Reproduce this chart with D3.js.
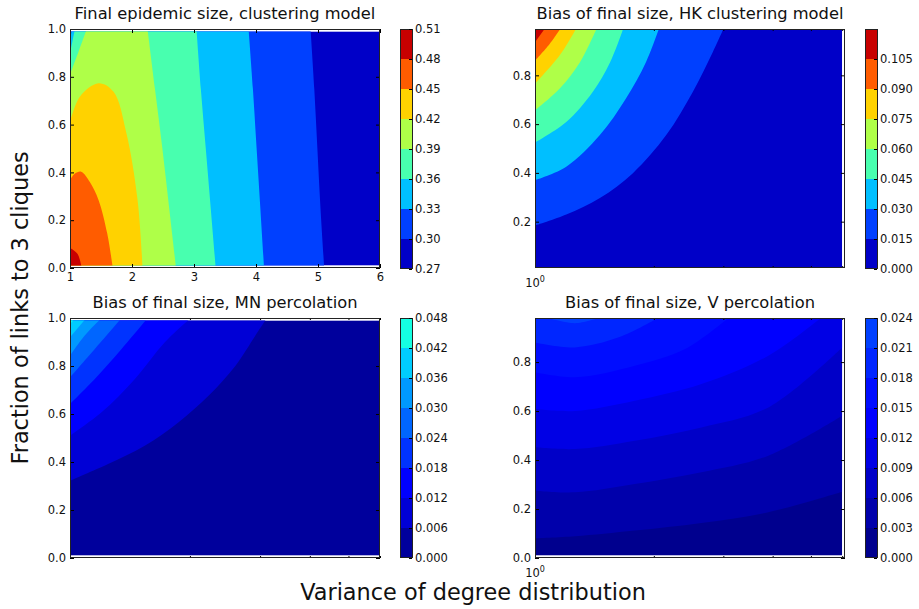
<!DOCTYPE html>
<html>
<head>
<meta charset="utf-8">
<script src="https://cdn.jsdelivr.net/npm/d3@7"></script>
<style>
body { margin: 0; background: #fff; }
text { font-family: "DejaVu Sans", sans-serif; }
</style>
</head>
<body>
<div id="chart"></div>
<script>
// contour levels, shown on the colorbars
var sizeLevels = [0.27, 0.30, 0.33, 0.36, 0.39, 0.42, 0.45, 0.48, 0.51];
var hkLevels = [0, 0.015, 0.03, 0.045, 0.06, 0.075, 0.09, 0.105, 0.12];
var mnLevels = [0, 0.006, 0.012, 0.018, 0.024, 0.03, 0.036, 0.042, 0.048];
var vLevels = [0, 0.003, 0.006, 0.009, 0.012, 0.015, 0.018, 0.021, 0.024];

// region above each level (one entry per level, from the 2nd one up)
// each region is a list of pieces [variance, fraction]; pieces with several points are curved
var sizeRegions = [
  [[[5.10, 0], [5.04, 0.25], [4.99, 0.5], [4.94, 0.75], [4.88, 1]], [[1, 1]], [[1, 0]]],
  [[[4.13, 0], [4.07, 0.25], [4.01, 0.5], [3.95, 0.75], [3.88, 1]], [[1.03, 1]], [[1, 0.95]], [[1, 0]]],
  [[[3.35, 0], [3.27, 0.25], [3.19, 0.5], [3.11, 0.75], [3.04, 1]], [[1.08, 1]], [[1, 0.9]], [[1, 0]]],
  [[[2.71, 0], [2.60, 0.25], [2.49, 0.5], [2.37, 0.75], [2.25, 1]], [[1.27, 1], [1.13, 0.9], [1, 0.81]], [[1, 0]]],
  [[[1, 0.611], [1.16, 0.717], [1.46, 0.773], [1.70, 0.738], [1.91, 0.564], [2.09, 0.285], [2.17, 0]], [[1, 0]]],
  [[[1, 0.368], [1.08, 0.395], [1.18, 0.403], [1.32, 0.36], [1.46, 0.285], [1.60, 0.145], [1.69, 0]], [[1, 0]]],
  [[[1, 0.084], [1.12, 0.06], [1.19, 0]], [[1, 0]]]
];

var hkRegions = [
  [[[1, 0.184], [1.20, 0.229], [1.46, 0.297], [1.77, 0.399], [2.15, 0.555], [2.51, 0.732], [2.82, 0.895], [3.02, 1]], [[1, 1]]],
  [[[1, 0.370], [1.20, 0.425], [1.46, 0.555], [1.70, 0.705], [1.91, 0.854], [2.07, 1]], [[1, 1]]],
  [[[1, 0.525], [1.20, 0.609], [1.40, 0.732], [1.55, 0.854], [1.68, 1]], [[1, 1]]],
  [[[1, 0.657], [1.155, 0.746], [1.30, 0.854], [1.44, 1]], [[1, 1]]],
  [[[1, 0.766], [1.155, 0.882], [1.28, 1]], [[1, 1]]],
  [[[1, 0.861], [1.089, 0.929], [1.17, 1]], [[1, 1]]],
  [[[1, 0.936], [1.068, 1]], [[1, 1]]]
];

var mnRegions = [
  [[[1, 0.3225], [1.246, 0.392], [1.54, 0.468], [1.87, 0.565], [2.23, 0.677], [2.60, 0.80], [2.92, 0.927], [3.12, 1]], [[1, 1]]],
  [[[1, 0.51], [1.20, 0.607], [1.455, 0.746], [1.73, 0.899], [2.01, 1]], [[1, 1]]],
  [[[1, 0.642], [1.154, 0.746], [1.347, 0.871], [1.566, 1]], [[1, 1]]],
  [[[1, 0.753], [1.154, 0.871], [1.347, 1]], [[1, 1]]],
  [[[1, 0.843], [1.089, 0.927], [1.20, 1]], [[1, 1]]],
  [[[1, 0.92], [1.099, 1]], [[1, 1]]],
  [[[1, 0.975], [1.031, 1]], [[1, 1]]]
];

var vRegions = [
  [[[1, 0.080], [1.262, 0.0886], [1.79, 0.112], [2.64, 0.143], [3.90, 0.187], [6, 0.271]], [[6, 1]], [[1, 1]]],
  [[[1, 0.275], [1.262, 0.268], [1.79, 0.302], [2.64, 0.350], [3.90, 0.418], [6, 0.581]], [[6, 1]], [[1, 1]]],
  [[[1, 0.452], [1.262, 0.445], [1.79, 0.479], [2.64, 0.533], [3.90, 0.615], [6, 0.86]], [[6, 1]], [[1, 1]]],
  [[[1, 0.608], [1.262, 0.60], [1.79, 0.642], [2.64, 0.71], [3.90, 0.826], [5.3, 0.98]], [[1, 1]]],
  [[[1, 0.758], [1.262, 0.738], [1.79, 0.785], [2.40, 0.853], [3.09, 0.98]], [[1, 1]]],
  [[[1, 0.88], [1.262, 0.86], [1.63, 0.901], [2.05, 0.98]], [[1, 1]]],
  [[[1.08, 0.98], [1.262, 0.959], [1.45, 0.98]]]
];

var linTicks = [1, 2, 3, 4, 5, 6];
var logMinor = [2, 3, 4, 5, 6];
var fracTicks = [0, 0.2, 0.4, 0.6, 0.8, 1.0];

// jet colormap
var jetR = d3.scaleLinear().domain([0, 0.35, 0.66, 0.89, 1]).range([0, 0, 1, 1, 0.5]).clamp(true);
var jetG = d3.scaleLinear().domain([0, 0.125, 0.375, 0.64, 0.91, 1]).range([0, 0, 1, 1, 0, 0]).clamp(true);
var jetB = d3.scaleLinear().domain([0, 0.11, 0.34, 0.65, 1]).range([0.5, 1, 1, 0, 0]).clamp(true);
function jet(t) { return d3.rgb(255 * jetR(t), 255 * jetG(t), 255 * jetB(t)).formatHex(); }

var svg = d3.select("#chart").append("svg")
  .attr("width", 919)
  .attr("height", 609);

var panels = [
  { left: 70, top: 29, w: 310, h: 239, log: false, xDom: [1, 6], xData: [1, 6], yDom: [0, 1], yData: [0.01, 0.99],
    yTicks: fracTicks, levels: sizeLevels, regions: sizeRegions, cDom: [0.27, 0.51], fmt: ".2f", cbTicks: sizeLevels,
    title: "Final epidemic size, clustering model", cbx: 400, tenLabel: false },
  { left: 535, top: 29, w: 310, h: 239, log: true, xDom: [1, 6.1], xData: [1, 6], yDom: [0.01, 0.99], yData: [0.01, 0.99],
    yTicks: fracTicks.slice(1, 5), levels: hkLevels, regions: hkRegions, cDom: [0, 0.12], fmt: ".3f", cbTicks: hkLevels.slice(0, 8),
    title: "Bias of final size, HK clustering model", cbx: 865, tenLabel: true },
  { left: 70, top: 318, w: 310, h: 240, log: true, xDom: [1, 6], xData: [1, 6], yDom: [0, 1], yData: [0.01, 0.99],
    yTicks: fracTicks, levels: mnLevels, regions: mnRegions, cDom: [0, 0.12], fmt: ".3f", cbTicks: mnLevels,
    title: "Bias of final size, MN percolation", cbx: 400, tenLabel: false },
  { left: 535, top: 318, w: 310, h: 240, log: true, xDom: [1, 6.1], xData: [1, 6], yDom: [0, 0.98], yData: [0.01, 0.98],
    yTicks: fracTicks.slice(0, 5), levels: vLevels, regions: vRegions, cDom: [0, 0.12], fmt: ".3f", cbTicks: vLevels,
    title: "Bias of final size, V percolation", cbx: 865, tenLabel: true }
];

function styleAxis(g) {
  g.select(".domain").remove();
  g.attr("font-family", "DejaVu Sans").attr("font-size", 11.5);
  g.selectAll("text").attr("fill", "#111");
  g.selectAll("line").attr("stroke", "#000");
}

panels.forEach(function(p, idx) {
  var x = (p.log ? d3.scaleLog() : d3.scaleLinear()).domain(p.xDom).range([p.left, p.left + p.w]);
  var y = d3.scaleLinear().domain(p.yDom).range([p.top + p.h, p.top]);
  var mid = function(i) { return (p.levels[i] + p.levels[i + 1]) / 2; };
  var color = function(i) { return jet((mid(i) - p.cDom[0]) / (p.cDom[1] - p.cDom[0])); };

  var clipId = "clip" + idx;
  svg.append("clipPath").attr("id", clipId).append("rect")
    .attr("x", x(p.xData[0]))
    .attr("y", y(p.yData[1]))
    .attr("width", x(p.xData[1]) - x(p.xData[0]))
    .attr("height", y(p.yData[0]) - y(p.yData[1]));

  var fill = svg.append("g").attr("clip-path", "url(#" + clipId + ")");
  fill.append("rect")
    .attr("x", x(p.xData[0]))
    .attr("y", y(p.yData[1]))
    .attr("width", x(p.xData[1]) - x(p.xData[0]))
    .attr("height", y(p.yData[0]) - y(p.yData[1]))
    .attr("fill", color(0));

  var curve = d3.line()
    .x(function(d) { return x(d[0]); })
    .y(function(d) { return y(d[1]); })
    .curve(d3.curveCatmullRom);

  function regionPath(r) {
    return r.map(function(seg, i) {
      var s = seg.length > 1 ? curve(seg) : "M" + x(seg[0][0]) + "," + y(seg[0][1]);
      return i ? "L" + s.slice(1) : s;
    }).join("") + "Z";
  }

  fill.selectAll("path.region")
    .data(p.regions)
    .join("path")
    .attr("class", "region")
    .attr("d", regionPath)
    .attr("fill", function(d, i) { return color(i + 1); });

  // axes, ticks pointing inward on all sides
  var bottom = p.log ? d3.axisBottom(x).tickValues([1]).tickFormat("")
                     : d3.axisBottom(x).tickValues(linTicks).tickFormat(d3.format("d"));
  svg.append("g").attr("transform", "translate(0," + (p.top + p.h) + ")")
    .call(bottom.tickSize(-4).tickPadding(5)).call(styleAxis);
  svg.append("g").attr("transform", "translate(0," + p.top + ")")
    .call(d3.axisTop(x).tickValues(p.log ? [1] : linTicks).tickFormat("").tickSize(-4)).call(styleAxis);
  if (p.log) {
    svg.append("g").attr("transform", "translate(0," + (p.top + p.h) + ")")
      .call(d3.axisBottom(x).tickValues(logMinor).tickFormat("").tickSize(-2)).call(styleAxis);
    svg.append("g").attr("transform", "translate(0," + p.top + ")")
      .call(d3.axisTop(x).tickValues(logMinor).tickFormat("").tickSize(-2)).call(styleAxis);
    if (p.tenLabel) {
      var t = svg.append("text")
        .attr("x", x(1))
        .attr("y", p.top + p.h + 19)
        .attr("text-anchor", "middle")
        .attr("font-size", 11.5)
        .attr("fill", "#111");
      t.append("tspan").text("10");
      t.append("tspan").attr("dy", -5).attr("font-size", 8).text("0");
    }
  }
  svg.append("g").attr("transform", "translate(" + p.left + ",0)")
    .call(d3.axisLeft(y).tickValues(p.yTicks).tickFormat(d3.format(".1f")).tickSize(-4).tickPadding(4)).call(styleAxis);
  svg.append("g").attr("transform", "translate(" + (p.left + p.w) + ",0)")
    .call(d3.axisRight(y).tickValues(p.yTicks).tickFormat("").tickSize(-4)).call(styleAxis);

  svg.append("rect")
    .attr("x", p.left + 0.5).attr("y", p.top + 0.5)
    .attr("width", p.w - 1).attr("height", p.h - 1)
    .attr("fill", "none").attr("stroke", "#222");

  svg.append("text")
    .attr("x", p.left + p.w / 2)
    .attr("y", p.top - 10)
    .attr("text-anchor", "middle")
    .attr("font-size", 16.3)
    .attr("fill", "#111")
    .text(p.title);

  // colorbar
  var cy = d3.scaleLinear().domain([p.levels[0], p.levels[p.levels.length - 1]]).range([p.top + 240, p.top]);
  svg.append("g").selectAll("rect")
    .data(d3.range(p.levels.length - 1))
    .join("rect")
    .attr("x", p.cbx)
    .attr("y", function(i) { return cy(p.levels[i + 1]); })
    .attr("width", 12)
    .attr("height", function(i) { return cy(p.levels[i]) - cy(p.levels[i + 1]); })
    .attr("fill", function(i) { return color(i); });
  svg.append("rect")
    .attr("x", p.cbx + 0.5).attr("y", p.top + 0.5)
    .attr("width", 12).attr("height", 239)
    .attr("fill", "none").attr("stroke", "#222");
  svg.append("g").attr("transform", "translate(" + (p.cbx + 12) + ",0)")
    .call(d3.axisRight(cy).tickValues(p.cbTicks).tickFormat(d3.format(p.fmt)).tickSize(-3).tickPadding(3))
    .call(styleAxis);
});

svg.append("text")
  .attr("transform", "translate(28,308) rotate(-90)")
  .attr("text-anchor", "middle")
  .attr("font-size", 22.4)
  .attr("fill", "#111")
  .text("Fraction of links to 3 cliques");

svg.append("text")
  .attr("x", 473)
  .attr("y", 599.5)
  .attr("text-anchor", "middle")
  .attr("font-size", 22.4)
  .attr("fill", "#111")
  .text("Variance of degree distribution");
</script>
</body>
</html>
